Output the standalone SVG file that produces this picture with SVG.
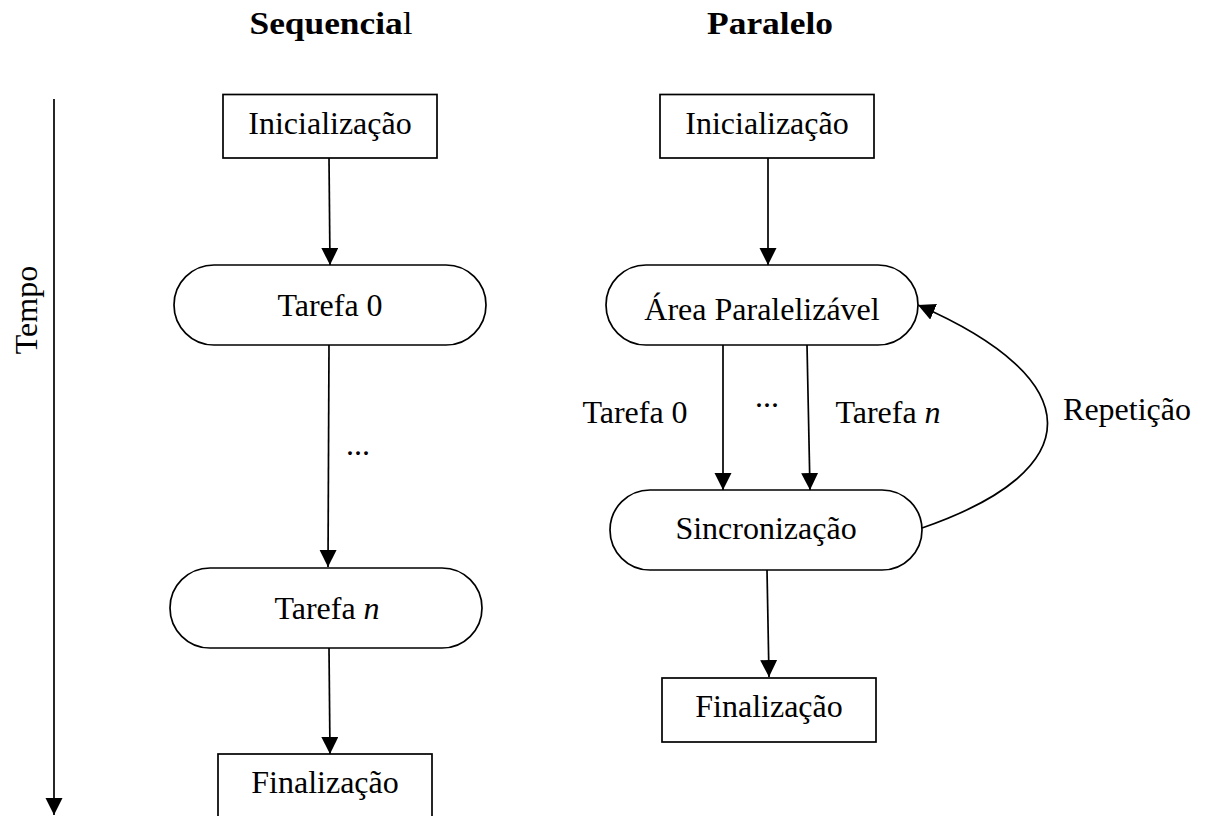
<svg xmlns="http://www.w3.org/2000/svg" width="1207" height="816" viewBox="0 0 1207 816">
<style>
  .box { fill: #fff; stroke: #000; stroke-width: 1.7; }
  .t { font-family: "Liberation Serif", "Times New Roman", serif; font-size: 32px; fill: #000; text-anchor: middle; }
  .title { font-weight: bold; }
  .edge { fill: none; stroke: #000; stroke-width: 1.7; marker-end: url(#arr); }
</style>
<defs>
  <marker id="arr" markerUnits="userSpaceOnUse" markerWidth="19" markerHeight="18" refX="17" refY="8.5" orient="auto">
    <path d="M0,0 L17,8.5 L0,17 z" fill="#000"/>
  </marker>
</defs>
<rect width="1207" height="816" fill="#fff"/>

<g id="titles">
  <text class="t title" x="331" y="34" textLength="163" lengthAdjust="spacingAndGlyphs">Sequencia<tspan font-weight="normal">l</tspan></text>
  <text class="t title" x="770" y="34" textLength="126" lengthAdjust="spacingAndGlyphs">Paralelo</text>
</g>

<g id="tempo">
  <text class="t" transform="translate(37,310) rotate(-90)">Tempo</text>
</g>

<g id="connectors">
  <path class="edge" d="M54 99 L54 815"/>
  <path class="edge" d="M329 158 L330 265"/>
  <path class="edge" d="M329 345 L328 567"/>
  <path class="edge" d="M329 648 L330 754"/>
  <path class="edge" d="M768 158 L768 265"/>
  <path class="edge" d="M723 345 L723 490"/>
  <path class="edge" d="M807 345 L810 490"/>
  <path class="edge" d="M767 570 L769 677"/>
  <path class="edge" d="M922 528 C1090 470, 1090 380, 918 305"/>
  <text class="t" x="358" y="455">...</text>
  <text class="t" x="635" y="423">Tarefa 0</text>
  <text class="t" x="767" y="407">...</text>
  <text class="t" x="888" y="423">Tarefa <tspan font-style="italic">n</tspan></text>
  <text class="t" x="1127" y="420">Repetição</text>
</g>

<g id="seq-init">
  <rect class="box" x="223" y="94.5" width="214" height="63.5"/>
  <text class="t" x="330" y="134">Inicialização</text>
</g>
<g id="seq-t0">
  <rect class="box" x="174" y="265" width="312" height="80" rx="40"/>
  <text class="t" x="330" y="316">Tarefa 0</text>
</g>
<g id="seq-tn">
  <rect class="box" x="170" y="568" width="312" height="80" rx="40"/>
  <text class="t" x="327" y="619">Tarefa <tspan font-style="italic">n</tspan></text>
</g>
<g id="seq-fin">
  <rect class="box" x="218" y="754" width="214" height="70"/>
  <text class="t" x="325" y="793">Finalização</text>
</g>

<g id="par-init">
  <rect class="box" x="660" y="94.5" width="214" height="63.5"/>
  <text class="t" x="767" y="134">Inicialização</text>
</g>
<g id="par-area">
  <rect class="box" x="606" y="265" width="312" height="80" rx="40"/>
  <text class="t" x="762" y="320">Área Paralelizável</text>
</g>
<g id="par-sync">
  <rect class="box" x="610" y="490" width="312" height="80" rx="40"/>
  <text class="t" x="766" y="539">Sincronização</text>
</g>
<g id="par-fin">
  <rect class="box" x="662" y="678" width="214" height="64"/>
  <text class="t" x="769" y="717">Finalização</text>
</g>
</svg>
